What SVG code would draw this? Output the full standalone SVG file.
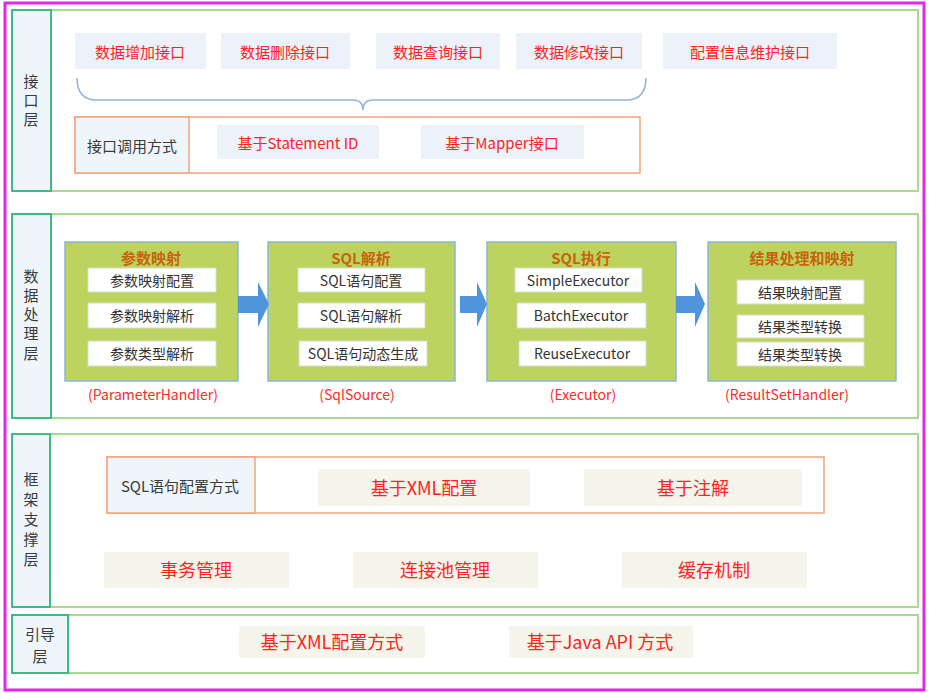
<svg xmlns="http://www.w3.org/2000/svg" width="931" height="693" viewBox="0 0 931 693">
<style>
text{font-family:"Noto Sans CJK SC","Noto Sans",sans-serif;dominant-baseline:central;text-anchor:middle}
.layer{fill:#ffffff;stroke:#a9d98f;stroke-width:2}
.lcol{fill:#eef6fb;stroke:#3dbb83;stroke-width:2}
.ltxt{font-size:15px;fill:#3a3a3a}
.ibox{fill:#edf2fa}
.rtxt{fill:#ff2222}
.obox{fill:#ffffff;stroke:#f4a27a;stroke-width:1.5}
.ocell{fill:#eef6fb;stroke:#f4a27a;stroke-width:1.5}
.gbox{fill:#bcd35f;stroke:#8ab6d9;stroke-width:1.5}
.gtitle{font-size:15px;font-weight:bold;fill:#c8640c}
.sbox{fill:#ffffff;stroke:#d8dcc8;stroke-width:1}
.stxt{font-size:14px;fill:#333}
.htxt{font-size:14px;fill:#ff2a2a}
.bbox{fill:#f5f5ec}
.arrow{fill:#4f94dc}
</style>
<rect x="5" y="3" width="919" height="687" fill="#ffffff" stroke="#e028e8" stroke-width="3"/>

<g id="layer-interface">
<rect class="layer" x="12" y="10" width="906" height="181"/>
<rect class="lcol" x="12" y="10" width="39" height="181"/>
<text class="ltxt"><tspan x="31" y="80">接</tspan><tspan x="31" y="99">口</tspan><tspan x="31" y="118">层</tspan></text>
</g>
<g id="if-add"><rect class="ibox" x="75" y="33" width="131" height="36"/><text class="rtxt" font-size="15" x="140" y="51">数据增加接口</text></g>
<g id="if-del"><rect class="ibox" x="221" y="33" width="129" height="36"/><text class="rtxt" font-size="15" x="285" y="51">数据删除接口</text></g>
<g id="if-query"><rect class="ibox" x="376" y="33" width="124" height="36"/><text class="rtxt" font-size="15" x="438" y="51">数据查询接口</text></g>
<g id="if-update"><rect class="ibox" x="516" y="33" width="126" height="36"/><text class="rtxt" font-size="15" x="579" y="51">数据修改接口</text></g>
<g id="if-config"><rect class="ibox" x="663" y="33" width="174" height="36"/><text class="rtxt" font-size="15" x="750" y="51">配置信息维护接口</text></g>
<g id="if-call">
<rect class="obox" x="75" y="117" width="565" height="56"/>
<rect class="ocell" x="75" y="117" width="114" height="56"/>
<text class="ltxt" x="132" y="145">接口调用方式</text>
<rect class="ibox" x="217" y="125" width="162" height="34"/>
<text class="rtxt" font-size="15" x="298" y="142">基于Statement ID</text>
<rect class="ibox" x="421" y="125" width="163" height="34"/>
<text class="rtxt" font-size="15" x="502" y="142">基于Mapper接口</text>
</g>

<g id="layer-data">
<rect class="layer" x="12" y="214" width="906" height="204"/>
<rect class="lcol" x="12" y="214" width="39" height="204"/>
<text class="ltxt"><tspan x="31" y="275">数</tspan><tspan x="31" y="294">据</tspan><tspan x="31" y="313">处</tspan><tspan x="31" y="332">理</tspan><tspan x="31" y="352">层</tspan></text>
</g>
<g id="param-map">
<rect class="gbox" x="65" y="242" width="173" height="139"/>
<text class="gtitle" x="151" y="257">参数映射</text>
<rect class="sbox" x="88" y="268" width="128" height="24"/><text class="stxt" x="152" y="280">参数映射配置</text>
<rect class="sbox" x="88" y="303" width="128" height="25"/><text class="stxt" x="152" y="315">参数映射解析</text>
<rect class="sbox" x="88" y="341" width="128" height="25"/><text class="stxt" x="152" y="353">参数类型解析</text>
<text class="htxt" x="153" y="394">(ParameterHandler)</text>
</g>
<g id="sql-parse">
<rect class="gbox" x="268" y="242" width="187" height="139"/>
<text class="gtitle" x="361" y="257">SQL解析</text>
<rect class="sbox" x="298" y="268" width="127" height="24"/><text class="stxt" x="361" y="280">SQL语句配置</text>
<rect class="sbox" x="298" y="303" width="127" height="25"/><text class="stxt" x="361" y="315">SQL语句解析</text>
<rect class="sbox" x="299" y="341" width="128" height="25"/><text class="stxt" x="363" y="353">SQL语句动态生成</text>
<text class="htxt" x="357" y="394">(SqlSource)</text>
</g>
<g id="sql-exec">
<rect class="gbox" x="487" y="242" width="189" height="139"/>
<text class="gtitle" x="581" y="257">SQL执行</text>
<rect class="sbox" x="515" y="268" width="127" height="24"/><text class="stxt" x="578" y="280">SimpleExecutor</text>
<rect class="sbox" x="517" y="303" width="129" height="25"/><text class="stxt" x="581" y="315">BatchExecutor</text>
<rect class="sbox" x="519" y="341" width="127" height="25"/><text class="stxt" x="582" y="353">ReuseExecutor</text>
<text class="htxt" x="583" y="394">(Executor)</text>
</g>
<g id="result-map">
<rect class="gbox" x="708" y="242" width="188" height="139"/>
<text class="gtitle" x="802" y="257">结果处理和映射</text>
<rect class="sbox" x="737" y="280" width="127" height="24"/><text class="stxt" x="800" y="292">结果映射配置</text>
<rect class="sbox" x="737" y="315" width="127" height="23"/><text class="stxt" x="800" y="326">结果类型转换</text>
<rect class="sbox" x="737" y="342" width="127" height="24"/><text class="stxt" x="800" y="354">结果类型转换</text>
<text class="htxt" x="787" y="394">(ResultSetHandler)</text>
</g>

<g id="layer-framework">
<rect class="layer" x="12" y="434" width="906" height="173"/>
<rect class="lcol" x="12" y="434" width="38" height="173"/>
<text class="ltxt"><tspan x="31" y="478">框</tspan><tspan x="31" y="498">架</tspan><tspan x="31" y="518">支</tspan><tspan x="31" y="538">撑</tspan><tspan x="31" y="558">层</tspan></text>
</g>
<g id="sql-config">
<rect class="obox" x="107" y="457" width="717" height="56"/>
<rect class="ocell" x="107" y="457" width="148" height="56"/>
<text class="ltxt" x="180" y="485">SQL语句配置方式</text>
<rect class="bbox" x="318" y="469" width="212" height="37"/>
<text class="rtxt" font-size="18" x="424" y="487">基于XML配置</text>
<rect class="bbox" x="584" y="469" width="218" height="37"/>
<text class="rtxt" font-size="18" x="693" y="487">基于注解</text>
</g>
<g id="tx-mgmt"><rect class="bbox" x="104" y="552" width="185" height="36"/><text class="rtxt" font-size="18" x="196" y="569">事务管理</text></g>
<g id="pool-mgmt"><rect class="bbox" x="353" y="552" width="185" height="36"/><text class="rtxt" font-size="18" x="445" y="569">连接池管理</text></g>
<g id="cache"><rect class="bbox" x="622" y="552" width="185" height="36"/><text class="rtxt" font-size="18" x="714" y="569">缓存机制</text></g>

<g id="layer-boot">
<rect class="layer" x="12" y="615" width="906" height="58"/>
<rect class="lcol" x="12" y="615" width="56" height="58"/>
<text class="ltxt"><tspan x="40" y="633">引导</tspan><tspan x="40" y="655">层</tspan></text>
</g>
<g id="boot-xml"><rect class="bbox" x="239" y="626" width="186" height="32"/><text class="rtxt" font-size="18" x="332" y="641">基于XML配置方式</text></g>
<g id="boot-java"><rect class="bbox" x="509" y="626" width="184" height="32"/><text class="rtxt" font-size="18" x="600" y="641">基于Java API 方式</text></g>

<g id="connectors">
<path d="M77,78 Q77,100 97,100 L353,100 Q363,100 363,110 Q363,100 373,100 L626,100 Q646,100 646,78" fill="none" stroke="#8fb4d8" stroke-width="1.5"/>
<polygon class="arrow" points="238,296 258,296 258,282 269,304 258,327 258,313 238,313"/>
<polygon class="arrow" points="460,296 477,296 477,282 487,304 477,327 477,313 460,313"/>
<polygon class="arrow" points="676,296 695,296 695,282 705,304 695,327 695,313 676,313"/>
</g>
</svg>
